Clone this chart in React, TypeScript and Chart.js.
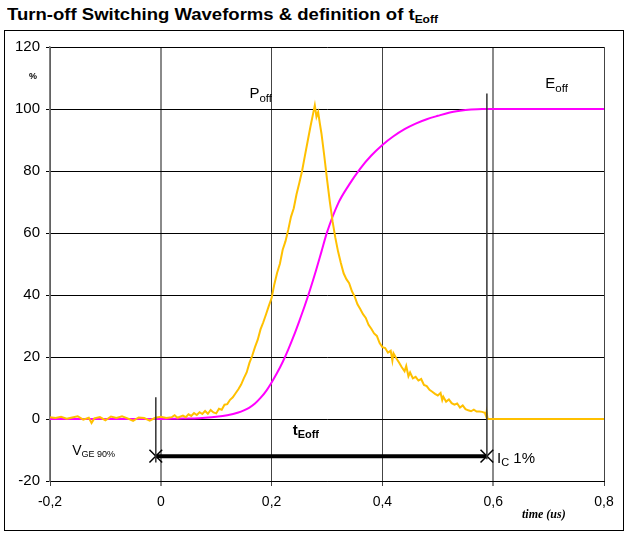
import React, { useEffect, useRef } from "react";
import { Chart, registerables } from "chart.js";

Chart.register(...registerables);

// ---- Data ----
const xTickValues = [-0.2, 0, 0.2, 0.4, 0.6, 0.8];
const yTickValues = [-20, 0, 20, 40, 60, 80, 100, 120];

// P_off (turn-off power), %
const powerX = [
  -0.2, -0.19, -0.18, -0.17, -0.16, -0.15, -0.14, -0.13, -0.125, -0.12, -0.11, -0.1, -0.09, -0.08, -0.07, -0.06,
  -0.05, -0.04, -0.03, -0.02, -0.01, 0.0, 0.01, 0.02, 0.025, 0.03, 0.04, 0.045, 0.05, 0.055, 0.06, 0.065, 0.07,
  0.075, 0.08, 0.085, 0.09, 0.095, 0.1, 0.105, 0.11, 0.115, 0.12, 0.125, 0.13, 0.135, 0.14, 0.145, 0.15, 0.155,
  0.16, 0.165, 0.17, 0.175, 0.18, 0.185, 0.19, 0.195, 0.2, 0.205, 0.21, 0.215, 0.22, 0.225, 0.23, 0.235, 0.24,
  0.245, 0.25, 0.255, 0.26, 0.265, 0.27, 0.275, 0.278, 0.281, 0.284, 0.287, 0.29, 0.295, 0.3, 0.305, 0.31, 0.315,
  0.32, 0.325, 0.33, 0.335, 0.34, 0.345, 0.35, 0.355, 0.36, 0.365, 0.37, 0.375, 0.38, 0.385, 0.39, 0.395, 0.4,
  0.405, 0.41, 0.415, 0.418, 0.42, 0.425, 0.43, 0.435, 0.44, 0.443, 0.447, 0.45, 0.455, 0.46, 0.465, 0.47, 0.475,
  0.48, 0.485, 0.49, 0.495, 0.5, 0.505, 0.508, 0.51, 0.515, 0.52, 0.525, 0.53, 0.535, 0.54, 0.545, 0.55, 0.555,
  0.56, 0.565, 0.57, 0.575, 0.58, 0.585, 0.587, 0.588, 0.59, 0.8,
];
const powerY = [
  0.6, 0.3, 0.7, 0.1, 0.5, 0.9, -0.2, 0.4, -1.3, 0.2, 0.6, -0.4, 0.8, 0.3, 0.9, 0.2,
  -0.6, 0.5, 0.3, -0.5, 0.4, 0.7, 0.3, 0.6, 1.2, 0.4, 1.1, 0.6, 1.5, 1.0, 1.9, 1.3, 2.2,
  1.6, 2.6, 1.7, 2.9, 2.1, 1.8, 3.3, 3.0, 4.6, 4.8, 6.2, 7.0, 8.3, 9.6, 11.1, 13.2, 15.0,
  18.1, 20.4, 23.2, 25.6, 28.9, 31.2, 33.8, 36.5, 39.0, 43.5, 47.2, 50.1, 54.6, 57.3, 61.0, 65.2, 68.0,
  72.5, 76.1, 80.0, 84.8, 89.5, 94.2, 98.6, 101.2, 97.5, 99.0, 95.4, 92.1, 85.0, 77.4, 70.2, 63.8, 58.5,
  54.0, 50.3, 47.0, 45.1, 43.8, 41.2, 39.5, 37.0, 35.5, 33.8, 32.6, 30.4, 29.1, 27.6, 26.8, 24.5, 23.2,
  22.9, 21.4, 22.0, 18.8, 21.2, 19.6, 18.2, 16.7, 15.4, 17.1, 13.8, 15.0, 13.1, 13.6, 12.4, 12.9, 11.0,
  10.6, 9.4, 8.8, 8.1, 7.6, 8.4, 6.1, 7.2, 5.6, 6.3, 5.1, 4.6, 5.0, 3.7, 4.4, 3.2, 2.8,
  2.5, 3.0, 2.4, 2.4, 2.3, 2.0, 1.0, 2.2, 0, 0,
];

// E_off (turn-off energy), %
const energyX = [
  -0.2, 0.0, 0.03, 0.06, 0.08, 0.1, 0.12, 0.14, 0.15, 0.16, 0.17, 0.18, 0.19, 0.2, 0.21, 0.22, 0.23, 0.24, 0.25,
  0.26, 0.27, 0.28, 0.29, 0.3, 0.32, 0.34, 0.36, 0.38, 0.4, 0.42, 0.44, 0.46, 0.48, 0.5, 0.52, 0.54, 0.56, 0.58,
  0.6, 0.8,
];
const energyY = [
  0, 0, 0.1, 0.2, 0.4, 0.7, 1.2, 2.1, 2.8, 3.7, 5.0, 6.8, 9.0, 11.8, 14.9, 18.4, 22.4, 26.8, 31.6,
  36.6, 42.0, 47.8, 54.0, 60.2, 69.5, 75.6, 80.8, 85.0, 88.4, 91.2, 93.5, 95.3, 96.7, 97.8, 98.8, 99.4, 99.8, 100,
  100, 100,
];

// t_Eoff definition markers
const tStart = -0.009; // V_GE 90%
const tEnd = 0.5886; // I_C 1%
const arrowLevel = -12;
const startMarkerY = [-14, 7];
const endMarkerY = [-13, 105];

// ---- Text annotations (data coordinates, parts drawn left-to-right) ----
type Part = { text: string; font: string; dy?: number };
type Note = { x: number; y: number; parts: Part[] };
const SANS = '"Liberation Sans", Arial, sans-serif';
const notes: Note[] = [
  { x: -0.238, y: 109.7, parts: [{ text: "%", font: `bold 9px ${SANS}` }] },
  {
    x: 0.16,
    y: 103.5,
    parts: [
      { text: "P", font: `15px ${SANS}` },
      { text: "off", font: `11.5px ${SANS}`, dy: 4 },
    ],
  },
  {
    x: 0.694,
    y: 106.8,
    parts: [
      { text: "E", font: `15px ${SANS}` },
      { text: "off", font: `11.5px ${SANS}`, dy: 4 },
    ],
  },
  {
    x: 0.238,
    y: -5.2,
    parts: [
      { text: "t", font: `bold 15px ${SANS}` },
      { text: "Eoff", font: `bold 11px ${SANS}`, dy: 3 },
    ],
  },
  {
    x: -0.16,
    y: -11.6,
    parts: [
      { text: "V", font: `14px ${SANS}` },
      { text: "GE 90%", font: `9px ${SANS}`, dy: 2 },
    ],
  },
  {
    x: 0.607,
    y: -14.2,
    parts: [
      { text: "I", font: `15px ${SANS}` },
      { text: "C", font: `11px ${SANS}`, dy: 3 },
      { text: " 1%", font: `15px ${SANS}` },
    ],
  },
  {
    x: 0.652,
    y: -31.9,
    parts: [{ text: "time (us)", font: `bold italic 12px "Liberation Serif", "Times New Roman", serif` }],
  },
];

const notesPlugin = {
  id: "notes",
  afterDraw(chart: any) {
    const { ctx } = chart;
    const xs = chart.scales.x;
    const ys = chart.scales.y;
    ctx.save();
    ctx.fillStyle = "#000";
    ctx.textBaseline = "alphabetic";
    ctx.textAlign = "left";
    for (const n of notes) {
      let px = xs.getPixelForValue(n.x);
      const py = ys.getPixelForValue(n.y);
      for (const p of n.parts) {
        ctx.font = p.font;
        ctx.fillText(p.text, px, py + (p.dy || 0));
        px += ctx.measureText(p.text).width;
      }
    }
    ctx.restore();
  },
};

function fmt(v: number) {
  const r = Math.round(v * 10) / 10;
  return r === 0 ? "0" : String(r).replace(".", ",");
}

export default function App() {
  const ref = useRef<HTMLCanvasElement | null>(null);

  useEffect(() => {
    if (!ref.current) return;
    const powerData = powerX.map((x, i) => ({ x, y: powerY[i] }));
    const energyData = energyX.map((x, i) => ({ x, y: energyY[i] }));
    const chart = new Chart(ref.current, {
      type: "line",
      data: {
        datasets: [
          {
            label: "start",
            data: startMarkerY.map((y) => ({ x: tStart, y })),
            borderColor: "#333",
            borderWidth: 1.5,
            pointRadius: 0,
          },
          {
            label: "end",
            data: endMarkerY.map((y) => ({ x: tEnd, y })),
            borderColor: "#333",
            borderWidth: 1.5,
            pointRadius: 0,
          },
          {
            label: "tEoff",
            data: [
              { x: tStart, y: arrowLevel },
              { x: tEnd, y: arrowLevel },
            ],
            borderColor: "#000",
            borderWidth: 4,
            pointStyle: "crossRot",
            pointRadius: 9,
            pointBorderWidth: 1.5,
            pointBorderColor: "#000",
          },
          {
            label: "Poff",
            data: powerData,
            borderColor: "#FFC000",
            borderWidth: 2,
            pointRadius: 0,
            tension: 0,
          },
          {
            label: "Eoff",
            data: energyData,
            borderColor: "#FF00FF",
            borderWidth: 2,
            pointRadius: 0,
            cubicInterpolationMode: "monotone",
          },
        ],
      },
      options: {
        animation: false,
        responsive: false,
        devicePixelRatio: 1,
        layout: { padding: { left: 0, top: 47, right: 20, bottom: 0 } },
        plugins: {
          legend: { display: false },
          tooltip: { enabled: false },
          title: { display: false },
        },
        scales: {
          x: {
            type: "linear",
            min: -0.2,
            max: 0.8,
            afterFit: (s: any) => {
              s.height = 52;
            },
            afterBuildTicks: (s: any) => {
              s.ticks = xTickValues.map((v) => ({ value: v }));
            },
            ticks: {
              color: "#000",
              font: { family: SANS, size: 14 },
              padding: 8,
              maxRotation: 0,
              callback: (v: any) => fmt(Number(v)),
            },
            grid: {
              color: (c: any) => (c.index === 1 || c.index === 4 ? "#8a8a8a" : "#444"),
              lineWidth: (c: any) => (c.index === 1 || c.index === 4 ? 2 : 1),
              tickLength: 5,
            },
            border: { color: "#000", width: 1 },
          },
          y: {
            type: "linear",
            min: -20,
            max: 120,
            afterFit: (s: any) => {
              s.width = 50;
            },
            afterBuildTicks: (s: any) => {
              s.ticks = yTickValues.map((v) => ({ value: v }));
            },
            ticks: {
              color: "#000",
              font: { family: SANS, size: 15 },
              padding: 6,
              callback: (v: any) => String(v),
            },
            grid: { color: "#000", lineWidth: 1, tickLength: 4 },
            border: { color: "#808080", width: 1.5 },
          },
        },
      },
      plugins: [notesPlugin],
    } as any);
    return () => chart.destroy();
  }, []);

  return (
    <div
      style={{
        position: "absolute",
        left: 0,
        top: 0,
        width: 624,
        height: 533,
        background: "#fff",
        overflow: "hidden",
      }}
    >
      <div
        style={{
          position: "absolute",
          left: 7,
          top: 5,
          font: `bold 17px ${SANS}`,
          lineHeight: "20px",
          whiteSpace: "nowrap",
          transform: "scaleX(1.09)",
          transformOrigin: "left top",
          color: "#000",
        }}
      >
        Turn-off Switching Waveforms &amp; definition of t
        <span style={{ fontSize: 11, position: "relative", top: 3 }}>Eoff</span>
      </div>
      <div
        style={{
          position: "absolute",
          left: 4,
          top: 30,
          width: 620,
          height: 501,
          boxSizing: "border-box",
          border: "1px solid #000",
        }}
      />
      <canvas
        ref={ref}
        width={624}
        height={533}
        style={{ position: "absolute", left: 0, top: 0, width: 624, height: 533 }}
      />
    </div>
  );
}
